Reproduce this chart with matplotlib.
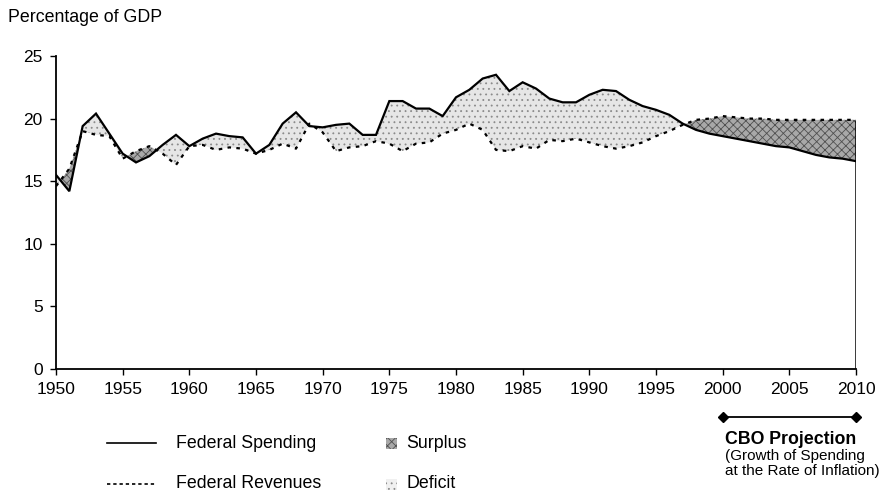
import numpy as np
import matplotlib
matplotlib.use("Agg")
import matplotlib.pyplot as plt
from matplotlib.lines import Line2D
from matplotlib.patches import Rectangle
import matplotlib.transforms as mtransforms

plt.rcParams['font.family'] = ['Liberation Sans', 'DejaVu Sans']
plt.rcParams['hatch.linewidth'] = 0.6

# ==========================================================
# Data (percentage of GDP)
# ==========================================================

years = np.arange(1950, 2011)

spending = [
    15.5, 14.2, 19.4, 20.4, 18.8, 17.2, 16.5, 17.0, 17.9, 18.7,
    17.8, 18.4, 18.8, 18.6, 18.5, 17.2, 17.9, 19.6, 20.5, 19.4,
    19.3, 19.5, 19.6, 18.7, 18.7, 21.4, 21.4, 20.8, 20.8, 20.2,
    21.7, 22.3, 23.2, 23.5, 22.2, 22.9, 22.4, 21.6, 21.3, 21.3,
    21.9, 22.3, 22.2, 21.5, 21.0, 20.7, 20.3, 19.6, 19.1, 18.8,
    18.6, 18.4, 18.2, 18.0, 17.8, 17.7, 17.4, 17.1, 16.9, 16.8, 16.6,
]

revenues = [
    14.6, 16.0, 19.0, 18.7, 18.6, 16.8, 17.4, 17.8, 17.2, 16.3,
    17.8, 17.9, 17.5, 17.7, 17.6, 17.2, 17.5, 18.0, 17.6, 19.6,
    18.9, 17.4, 17.7, 17.8, 18.2, 18.0, 17.4, 18.0, 18.1, 18.8,
    19.1, 19.6, 19.1, 17.5, 17.4, 17.8, 17.6, 18.3, 18.2, 18.4,
    18.1, 17.8, 17.6, 17.8, 18.1, 18.6, 19.0, 19.5, 19.9, 20.0,
    20.2, 20.1, 20.0, 20.0, 19.9, 19.9, 19.9, 19.9, 19.9, 19.9, 19.9,
]

x_ticks = np.arange(1950, 2011, 5)
y_ticks = np.arange(0, 26, 5)

projection_years = [2000, 2010]

spend = np.array(spending)
rev = np.array(revenues)

FS = 12.8

# ==========================================================
# Figure
# ==========================================================

fig = plt.figure(figsize=(8.93, 4.93), dpi=100)
ax = fig.add_axes([56 / 893, 1 - 369 / 493, 800 / 893, 313 / 493])

# Deficit (spending above revenues)
ax.fill_between(years, rev, spend, where=spend >= rev, interpolate=True,
                facecolor='#e6e6e6', edgecolor='#8a8a8a', hatch='...',
                linewidth=0)

# Surplus (revenues above spending)
ax.fill_between(years, spend, rev, where=rev >= spend, interpolate=True,
                facecolor='#a8a8a8', edgecolor='#505050', hatch='xxxx',
                linewidth=0)

ax.plot(years, spend, color='black', lw=1.6, solid_joinstyle='miter')
ax.plot(years, rev, color='black', lw=1.6, linestyle=(0, (1.6, 2.4)))

# right edge of the area
ax.vlines(years[-1], 0, rev[-1], color='black', lw=1.8)

ax.set_xlim(1950, 2010)
ax.set_ylim(0, 25)
ax.set_xticks(x_ticks)
ax.set_yticks(y_ticks)

for side in ['top', 'right']:
    ax.spines[side].set_visible(False)
for side in ['left', 'bottom']:
    ax.spines[side].set_linewidth(1.3)

ax.tick_params(axis='both', direction='out', length=4.5, width=1,
               labelsize=12.5, pad=5)

fig.text(8 / 893, 1 - 18 / 493, 'Percentage of GDP', fontsize=FS,
         ha='left', va='center')

# ==========================================================
# CBO projection marker
# ==========================================================

trans = mtransforms.blended_transform_factory(ax.transData, ax.transAxes)
ax.plot(projection_years, [-0.153, -0.153], transform=trans, color='black',
        lw=1.3, marker='D', markersize=5, clip_on=False)

fig.text(725 / 893, 1 - 440 / 493, 'CBO Projection', fontsize=FS,
         fontweight='bold', ha='left', va='center')
fig.text(725 / 893, 1 - 456 / 493, '(Growth of Spending', fontsize=11,
         ha='left', va='center')
fig.text(725 / 893, 1 - 471 / 493, 'at the Rate of Inflation)', fontsize=11,
         ha='left', va='center')

# ==========================================================
# Legend
# ==========================================================

y1 = 1 - 443 / 493
y2 = 1 - 484 / 493

fig.add_artist(Line2D([107 / 893, 156 / 893], [y1, y1], color='black', lw=1.2))
fig.add_artist(Line2D([107 / 893, 156 / 893], [y2, y2], color='black', lw=1.2,
                      linestyle=(0, (2, 1.75))))
fig.text(176 / 893, y1, 'Federal Spending', fontsize=FS, va='center')
fig.text(176 / 893, y2, 'Federal Revenues', fontsize=FS, va='center')

box_w = 11 / 893
box_h = 11 / 493
fig.add_artist(Rectangle((386 / 893, y1 - box_h / 2), box_w, box_h,
                         transform=fig.transFigure, facecolor='#a8a8a8',
                         edgecolor='#505050', hatch='xxxx', linewidth=0))
fig.add_artist(Rectangle((386 / 893, y2 - box_h / 2), box_w, box_h,
                         transform=fig.transFigure, facecolor='#f0f0f0',
                         edgecolor='#8a8a8a', hatch='...', linewidth=0))
fig.text(406 / 893, y1, 'Surplus', fontsize=FS, va='center')
fig.text(406 / 893, y2, 'Deficit', fontsize=FS, va='center')

fig.savefig('out.png', dpi=100)
